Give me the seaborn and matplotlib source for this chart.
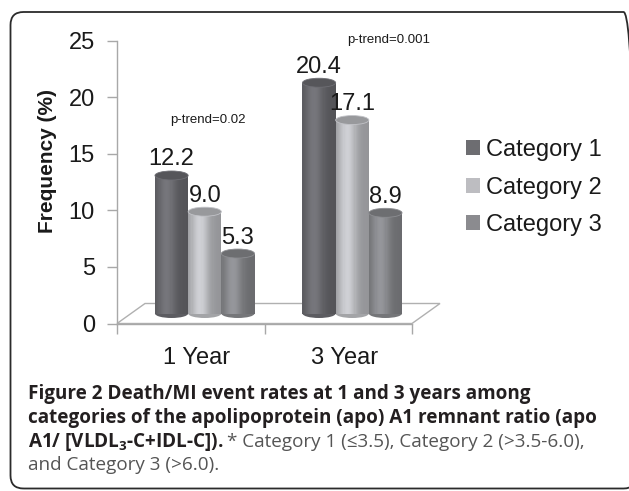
import numpy as np
import pandas as pd
import seaborn as sns
import matplotlib
matplotlib.use("Agg")
from matplotlib import pyplot as plt
from matplotlib.patches import Rectangle, Ellipse, Polygon, Patch, FancyBboxPatch
from matplotlib.transforms import ScaledTranslation

# data
periods = ["1 Year", "3 Year"]
categories = ["Category 1", "Category 2", "Category 3"]
cat1_vals = [12.2, 20.4]
cat2_vals = [9.0, 17.1]
cat3_vals = [5.3, 8.9]
p_trend = ["p-trend=0.02", "p-trend=0.001"]
y_ticks = [0, 5, 10, 15, 20, 25]

bar_colors = ["#69696e", "#b9babe", "#85868a"]
legend_colors = ["#6d6d71", "#bdbdc1", "#8b8b8f"]

sns.set_theme(style="white")
plt.rcParams["font.family"] = ["Liberation Sans", "DejaVu Sans"]
plt.rcParams["mathtext.fontset"] = "custom"
plt.rcParams["mathtext.rm"] = "Open Sans"
plt.rcParams["mathtext.bf"] = "Open Sans:bold"

df = pd.DataFrame({
    "period": periods * 3,
    "category": np.repeat(categories, len(periods)),
    "freq": cat1_vals + cat2_vals + cat3_vals,
})

fig = plt.figure(figsize=(6.29, 4.91), dpi=100)
W, H = 629, 491
ax = fig.add_axes([117 / W, 1 - 323.5 / H, 295 / W, 282.8 / H])

sns.barplot(data=df, x="period", y="freq", hue="category", hue_order=categories,
            palette=bar_colors, width=0.675, gap=0, ax=ax, legend=False,
            saturation=1, errorbar=None)

ax.set_xlim(-0.5, 1.5)
ax.set_ylim(0, 25)

# pixel -> data scale
px_x = 295 / 2.0
px_y = 282.8 / 25.0
shift = ScaledTranslation(0.14, 0.10, fig.dpi_scale_trans)
bar_tr = ax.transData + shift
ell_h = 9 / px_y

# floor of the 3d box
dx, dy = 28 / px_x, 20 / px_y
floor = Polygon([(-0.5, 0), (1.5, 0), (1.5 + dx, dy), (-0.5 + dx, dy)],
                closed=True, facecolor="white", edgecolor="#b0b0b0", lw=1.0,
                clip_on=False, zorder=1)
ax.add_patch(floor)

# cylinders
for ci, cont in enumerate(ax.containers):
    base = np.array(matplotlib.colors.to_rgb(bar_colors[ci]))
    for bar in cont:
        x, w, h = bar.get_x(), bar.get_width(), bar.get_height()
        bar.set_transform(bar_tr)
        bar.set_zorder(2)
        bar.set_edgecolor("none")
        ax.add_patch(Ellipse((x + w / 2, 0), w, ell_h, transform=bar_tr,
                             facecolor=base * 0.88, lw=0, zorder=1.9))
        n = 30
        for k in range(n):
            t = (k + 0.5) / n
            f = 0.8 + 0.32 * np.exp(-((t - 0.35) / 0.28) ** 2)
            ax.add_patch(Rectangle((x + k * w / n, 0), w / n * 1.08, h,
                                   transform=bar_tr, lw=0,
                                   facecolor=np.clip(base * f, 0, 1), zorder=2.1))
        ax.add_patch(Ellipse((x + w / 2, h), w, ell_h, transform=bar_tr,
                             facecolor=base * 0.82, edgecolor=np.clip(base * 1.05, 0, 1),
                             lw=0.6, zorder=2.2))
        ax.text(x + w / 2, h, f"{h:.1f}", ha="center", va="baseline", fontsize=17,
                color="#1a1a1a", zorder=3,
                transform=ax.transData + ScaledTranslation(0.14, 0.20, fig.dpi_scale_trans))

# p-trend notes
ax.text(-0.141, 17.7, p_trend[0], fontsize=9.5, color="#1a1a1a", ha="left", va="baseline")
ax.text(1.059, 24.8, p_trend[1], fontsize=9.5, color="#1a1a1a", ha="left", va="baseline",
        clip_on=False)

# axes styling
sns.despine(ax=ax, top=True, right=True)
for s in ["left", "bottom"]:
    ax.spines[s].set_color("#a8a8a8")
    ax.spines[s].set_linewidth(1.0)
ax.set_yticks(y_ticks)
ax.set_yticklabels([str(v) for v in y_ticks])
ax.tick_params(axis="y", length=7, width=1, color="#a8a8a8", labelsize=17,
               pad=9, labelcolor="#1a1a1a", left=True)
ax.set_xticks([-0.5, 0.5, 1.5])
ax.set_xticklabels([])
ax.set_xticks([0, 1], minor=True)
ax.set_xticklabels(periods, minor=True)
ax.tick_params(axis="x", which="major", length=7, width=1, color="#a8a8a8", bottom=True)
ax.tick_params(axis="x", which="minor", length=0, labelsize=17, pad=17,
               labelcolor="#1a1a1a")
for lab in ax.get_xticklabels(minor=True):
    lab.set_transform(lab.get_transform() + ScaledTranslation(0.06, 0, fig.dpi_scale_trans))
ax.set_xlabel("")
ax.set_ylabel("Frequency (%)", fontsize=15, fontweight="bold", color="#1a1a1a",
              va="center")
ax.yaxis.set_label_coords(-0.2356, 0.575)
ax.grid(False)

# legend
handles = [Patch(facecolor=c, edgecolor="none") for c in legend_colors]
fig.legend(handles, categories, loc="upper left",
           bbox_to_anchor=(466 / W, 1 - 139 / H), frameon=False, fontsize=17,
           handlelength=0.6, handleheight=0.6, handletextpad=0.25,
           labelspacing=0.66, borderpad=0, borderaxespad=0, labelcolor="#1a1a1a")

# rounded frame around the figure panel
frame = FancyBboxPatch((10.5 / 100, 2.5 / 100), 626 / 100, 476.5 / 100,
                       boxstyle="round,pad=0,rounding_size=0.13",
                       transform=fig.dpi_scale_trans, facecolor="none",
                       edgecolor="#2b2b2b", lw=1.3, clip_on=False)
fig.patches.append(frame)

# caption
cap_x = 28 / W
cap_font = ["Open Sans", "DejaVu Sans"]
cap_size = 13.6
line_y = [399, 423, 447, 470]
fig.text(cap_x, 1 - line_y[0] / H, "Figure 2 Death/MI event rates at 1 and 3 years among",
         fontsize=cap_size, fontweight="bold", family=cap_font, color="#231f20",
         va="baseline")
fig.text(cap_x, 1 - line_y[1] / H,
         "categories of the apolipoprotein (apo) A1 remnant ratio (apo",
         fontsize=cap_size, fontweight="bold", family=cap_font, color="#231f20",
         va="baseline")
t3 = fig.text(cap_x, 1 - line_y[2] / H, r"A1/ [VLDL$_\mathbf{3}$-C+IDL-C]).",
              fontsize=cap_size, fontweight="bold", family=cap_font, color="#231f20",
              va="baseline")
fig.canvas.draw()
bb = t3.get_window_extent()
fig.text(bb.x1 / W + 4 / W, 1 - line_y[2] / H,
         "* Category 1 (\u22643.5), Category 2 (>3.5-6.0),",
         fontsize=cap_size, family=cap_font, color="#555555", va="baseline")
fig.text(cap_x, 1 - line_y[3] / H, "and Category 3 (>6.0).",
         fontsize=cap_size, family=cap_font, color="#555555", va="baseline")

fig.savefig("out.png", dpi=100)
